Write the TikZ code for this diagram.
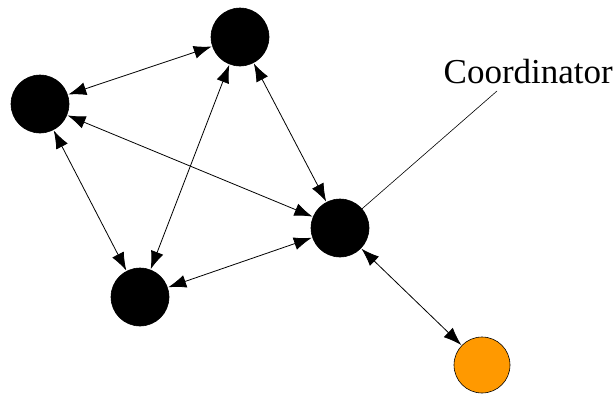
\documentclass[tikz,border=0pt]{standalone}
\usepackage{fontspec}
\setmainfont{Liberation Serif}
\usetikzlibrary{arrows.meta}
\definecolor{peer}{HTML}{FF9900}
\begin{document}
\begin{tikzpicture}[x=1pt,y=-1pt,
  agent/.style={circle,draw=black,line width=0.6pt,fill=black,minimum size=58pt,inner sep=0pt},
  client/.style={agent,fill=peer,minimum size=56pt},
  link/.style={arrows={Latex[length=18pt,width=13pt]-Latex[length=18pt,width=13pt]},line width=0.8pt,shorten <=0.5pt,shorten >=0.5pt}]
  \useasboundingbox (0,0) rectangle (613,394);
  \node[agent] (top) at (240,37) {};
  \node[agent] (left) at (40,104) {};
  \node[agent] (coord) at (340,228) {};
  \node[agent] (bottom) at (140,297) {};
  \node[client] (orange) at (482,365) {};
  \node[font=\fontsize{35}{40}\selectfont,anchor=east,inner sep=0pt] (label) at (613,72) {Coordinator};
  \coordinate (tail) at (497,91);
  \draw[link] (left) -- (top);
  \draw[link] (bottom) -- (top);
  \draw[link] (coord) -- (top);
  \draw[link] (left) -- (coord);
  \draw[link] (left) -- (bottom);
  \draw[link] (bottom) -- (coord);
  \draw[link] (coord) -- (orange);
  \draw[line width=0.6pt] (coord) -- (tail);
\end{tikzpicture}
\end{document}
